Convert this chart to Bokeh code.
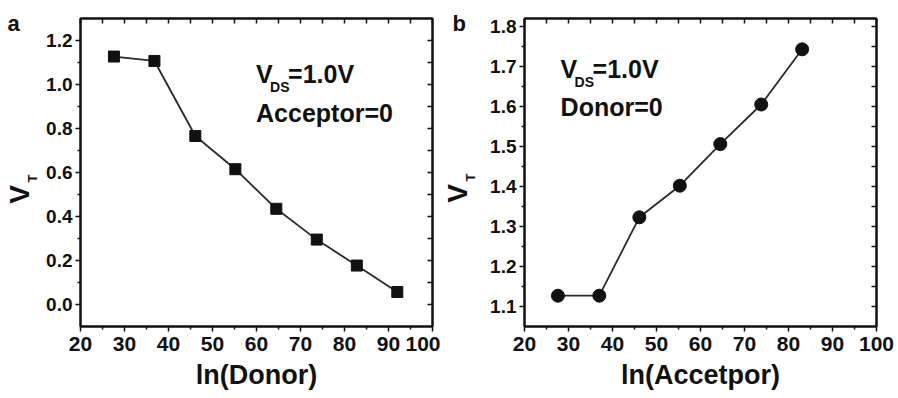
import math
from bokeh.plotting import figure
from bokeh.models import (Range1d, FixedTicker, LinearAxis, Label, PrintfTickFormatter,
                          CustomLabelingPolicy)
from bokeh.layouts import row
from bokeh.embed import file_html
from bokeh.resources import INLINE

# ---- data ----
donor_x = [27.6, 36.8, 46.1, 55.2, 64.5, 73.7, 82.8, 92.0]
donor_vt = [1.127, 1.107, 0.766, 0.615, 0.435, 0.295, 0.177, 0.057]
acc_x = [27.6, 37.0, 46.1, 55.3, 64.5, 73.8, 83.1]
acc_vt = [1.127, 1.127, 1.323, 1.402, 1.506, 1.605, 1.743]

x_ticks = [20, 30, 40, 50, 60, 70, 80, 90, 100]
x_minor = [25, 35, 45, 55, 65, 75, 85, 95]
yl_ticks = [0.0, 0.2, 0.4, 0.6, 0.8, 1.0, 1.2]
yl_minor = [0.1, 0.3, 0.5, 0.7, 0.9, 1.1]
yr_ticks = [1.1, 1.2, 1.3, 1.4, 1.5, 1.6, 1.7, 1.8]
yr_minor = [1.15, 1.25, 1.35, 1.45, 1.55, 1.65, 1.75]

FONT = "Liberation Sans"
INK = "#111111"
LINE = "#2a2a2a"
H = 398
TOP, BOTTOM = 18, 72

NO_LABELS_JS = """
try {
  const r = indices.clone();
  for (const i of Array.from(indices)) r.unset(i);
  return r;
} catch (e) { return indices; }
"""


def style_axis(ax, ticks, minor, out=True, labels=True, fmt=None, fsize="17px"):
    ax.ticker = FixedTicker(ticks=ticks, minor_ticks=minor)
    ax.axis_line_color = INK
    ax.axis_line_width = 2
    ax.major_tick_line_color = INK
    ax.minor_tick_line_color = INK
    ax.major_tick_line_width = 1.5
    ax.minor_tick_line_width = 1.5
    if out:
        ax.major_tick_out = 5
        ax.major_tick_in = 0
        ax.minor_tick_out = 3
        ax.minor_tick_in = 0
    else:
        ax.major_tick_out = 0
        ax.major_tick_in = 5
        ax.minor_tick_out = 0
        ax.minor_tick_in = 5
    if labels:
        ax.major_label_text_font = FONT
        ax.major_label_text_font_style = "bold"
        ax.major_label_text_font_size = fsize
        ax.major_label_text_color = INK
        if fmt:
            ax.formatter = PrintfTickFormatter(format=fmt)
    else:
        ax.major_label_text_font_size = "0px"
        ax.major_label_standoff = 0
        ax.major_label_policy = CustomLabelingPolicy(code=NO_LABELS_JS)


def make_panel(w, bl, br, xr, yr, ylt, ylm, xlabel):
    p = figure(width=w, height=H, output_backend="svg", toolbar_location=None,
               x_range=xr, y_range=yr, x_axis_location=None, y_axis_location=None,
               min_border_left=bl, min_border_right=br, min_border_top=TOP,
               min_border_bottom=BOTTOM)
    p.grid.visible = False
    p.outline_line_color = INK
    p.outline_line_width = 2
    p.background_fill_color = "white"
    p.border_fill_color = "white"

    bx = LinearAxis()
    style_axis(bx, x_ticks, x_minor, out=True, labels=True, fsize="21px")
    bx.major_label_standoff = 5
    bx.axis_label = xlabel
    bx.axis_label_text_font = FONT
    bx.axis_label_text_font_style = "bold"
    bx.axis_label_text_font_size = "27px"
    bx.axis_label_text_color = INK
    bx.axis_label_standoff = 6
    p.add_layout(bx, "below")

    ly = LinearAxis()
    style_axis(ly, ylt, ylm, out=True, labels=True, fmt="%.1f", fsize="19px")
    ly.major_label_standoff = 3
    p.add_layout(ly, "left")

    tx = LinearAxis()
    style_axis(tx, x_ticks, x_minor, out=False, labels=False)
    p.add_layout(tx, "above")

    ry = LinearAxis()
    style_axis(ry, ylt, ylm, out=False, labels=False)
    p.add_layout(ry, "right")
    return p


def side_panel(w):
    # full-height frame, not aligned with the panels; data y = distance from page bottom
    s = figure(width=w, height=H, output_backend="svg", toolbar_location=None,
               x_range=Range1d(0, w), y_range=Range1d(0, H),
               x_axis_location=None, y_axis_location=None,
               min_border_left=0, min_border_right=0, min_border_top=0,
               min_border_bottom=0, frame_align=False)
    s.grid.visible = False
    s.outline_line_color = None
    s.background_fill_color = "white"
    s.border_fill_color = "white"
    return s


def lab(p, x, y, text, size, xo=0, yo=0, angle=0, align="left", base="alphabetic"):
    p.add_layout(Label(x=x, y=y, text=text, x_offset=xo, y_offset=yo, angle=angle,
                       text_font=FONT, text_font_style="bold", text_font_size=size,
                       text_color=INK, text_align=align, text_baseline=base))


def ylabel(s, cx, cy):
    # cx, cy: screen position (y from top) of the big rotated V
    lab(s, cx, H - cy, "V", "28px", angle=math.pi / 2, align="center", base="middle")
    lab(s, cx + 13, H - cy + 16, "T", "13px", angle=math.pi / 2, align="center", base="middle")


# ---- panel a ----
sa = side_panel(40)
ylabel(sa, 19, 194)
lab(sa, 7, H - 23, "a", "22px")

pa = make_panel(400, 40, 8, Range1d(20, 100), Range1d(-0.1, 1.3), yl_ticks, yl_minor, "ln(Donor)")
pa.line(donor_x, donor_vt, line_color=LINE, line_width=1.8)
pa.scatter(donor_x, donor_vt, marker="square", size=11, fill_color=INK, line_color=INK)
lab(pa, 59.9, 1.05, "V", "25px")
lab(pa, 59.9, 1.05, "DS", "14px", xo=14, yo=-13)
lab(pa, 59.9, 1.05, "=1.0V", "25px", xo=32)
lab(pa, 59.9, 0.872, "Acceptor=0", "25px")

# ---- panel b ----
sb = side_panel(40)
ylabel(sb, 17, 193)
lab(sb, 12, H - 23, "b", "22px")

pb = make_panel(418, 44, 22, Range1d(20, 100), Range1d(1.05, 1.82), yr_ticks, yr_minor, "ln(Accetpor)")
pb.line(acc_x, acc_vt, line_color=LINE, line_width=1.8)
pb.scatter(acc_x, acc_vt, marker="circle", size=13, fill_color=INK, line_color=INK)
lab(pb, 28.2, 1.694, "V", "25px")
lab(pb, 28.2, 1.694, "DS", "14px", xo=14, yo=-13)
lab(pb, 28.2, 1.694, "=1.0V", "25px", xo=32)
lab(pb, 28.2, 1.599, "Donor=0", "25px")

layout = row(sa, pa, sb, pb, spacing=0)
open("out.html", "w").write(file_html(layout, INLINE))
